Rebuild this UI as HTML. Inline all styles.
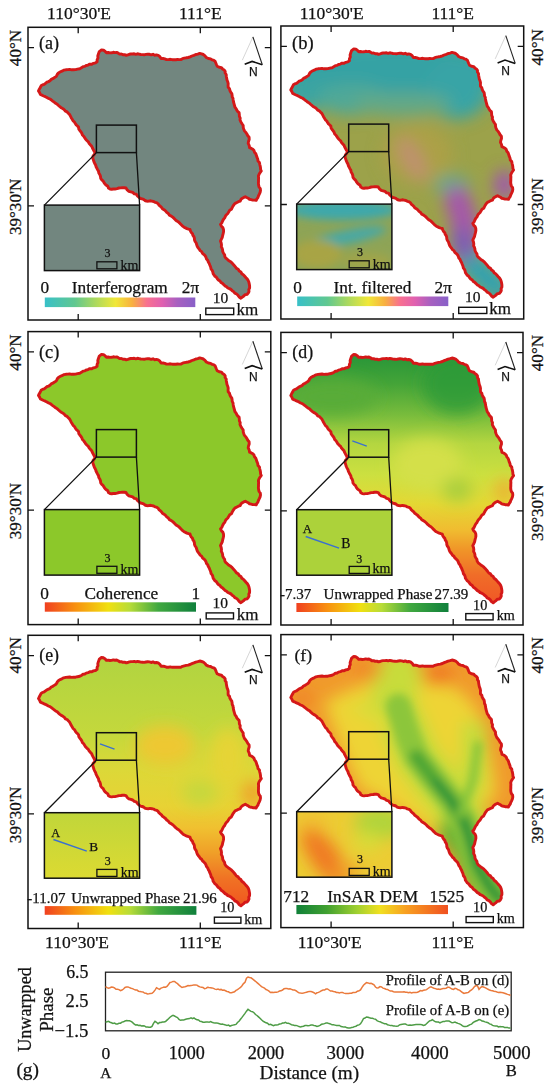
<!DOCTYPE html>
<html><head><meta charset="utf-8"><style>
html,body{margin:0;padding:0;background:#fff;}
svg{display:block;}
text{font-family:"Liberation Serif",serif;fill:#111;stroke:#111;stroke-width:0.25px;}
.s{font-family:"Liberation Sans",sans-serif;}
</style></head><body>
<svg width="550" height="1088" viewBox="0 0 550 1088">
<defs>
<path id="basin" d="M101.5,49.9 L103.6,50.2 L105.2,51.4 L106.5,52.8 L108.2,52.5 L109.9,52.9 L111.6,52.8 L113.3,52.3 L115.0,52.6 L116.7,52.4 L118.2,53.1 L119.6,54.1 L121.3,54.0 L122.9,54.7 L124.6,54.6 L126.2,55.3 L127.8,54.9 L129.3,54.3 L130.9,54.0 L132.6,54.0 L134.2,53.8 L135.8,54.3 L137.5,53.8 L139.1,54.1 L140.7,54.5 L142.5,54.6 L144.2,54.8 L146.0,54.4 L147.7,54.2 L149.5,54.3 L151.2,54.9 L153.0,54.3 L154.7,55.2 L156.5,54.9 L158.2,55.3 L159.9,56.7 L161.1,58.6 L163.0,58.5 L164.8,58.9 L166.5,59.6 L168.4,59.6 L170.3,59.3 L172.3,59.7 L174.2,59.6 L175.8,59.7 L177.5,59.5 L179.2,59.6 L180.8,59.6 L182.5,58.7 L184.3,58.2 L186.2,57.8 L188.1,57.5 L190.1,56.9 L191.9,56.0 L193.9,55.3 L195.8,54.5 L197.8,54.1 L199.7,53.4 L201.6,53.9 L203.4,54.5 L205.0,55.9 L206.3,57.5 L208.4,58.5 L210.6,58.9 L212.0,59.8 L213.6,60.2 L215.0,61.1 L215.7,62.8 L216.4,64.5 L217.2,66.2 L219.2,67.2 L221.5,67.6 L222.6,69.0 L224.1,69.9 L225.2,71.3 L225.1,73.0 L226.2,74.5 L226.3,76.2 L226.6,77.8 L227.0,80.0 L227.8,82.0 L228.2,83.7 L228.1,85.5 L228.2,87.3 L229.5,88.7 L229.9,90.5 L230.7,92.1 L231.8,93.6 L232.1,95.2 L232.2,96.9 L233.0,98.4 L233.2,100.0 L233.5,101.9 L234.0,103.7 L234.5,105.5 L235.0,107.3 L236.1,108.6 L236.8,110.2 L237.8,111.6 L239.1,112.7 L239.3,114.5 L239.4,116.4 L240.2,118.1 L240.0,120.0 L240.9,121.9 L242.0,123.7 L243.2,125.5 L243.2,127.4 L243.8,129.2 L244.5,130.9 L245.8,132.4 L246.9,134.0 L247.8,135.8 L249.1,137.3 L249.2,139.4 L248.5,141.4 L248.2,143.4 L249.2,145.5 L249.6,147.7 L251.3,148.4 L252.8,149.3 L254.0,150.6 L254.5,152.3 L255.8,153.8 L256.4,155.5 L256.9,157.2 L257.7,159.0 L258.0,161.0 L259.4,162.5 L259.8,164.5 L260.2,166.1 L260.5,167.8 L260.6,169.5 L261.3,171.0 L260.1,172.6 L259.1,174.2 L258.4,176.1 L258.6,177.9 L258.5,179.8 L258.5,181.6 L258.4,183.4 L258.6,185.2 L259.1,187.0 L260.3,188.6 L260.5,190.4 L260.1,192.4 L259.3,194.2 L258.4,196.0 L257.9,197.6 L256.9,198.9 L256.2,200.4 L254.5,200.1 L252.8,200.1 L251.1,199.6 L249.5,199.3 L248.2,198.2 L246.7,197.5 L245.3,196.7 L243.8,197.4 L242.4,198.2 L241.0,199.4 L240.2,201.1 L238.4,201.7 L236.8,202.6 L235.1,203.3 L234.0,204.7 L233.0,206.1 L232.2,207.6 L231.4,209.3 L229.7,210.3 L228.7,211.9 L227.8,213.5 L226.5,214.7 L225.4,216.2 L224.7,217.9 L223.5,219.3 L222.6,221.0 L221.8,222.9 L220.5,224.4 L221.4,226.2 L222.8,227.6 L223.5,229.5 L223.6,231.5 L223.2,233.4 L222.7,235.3 L222.3,237.3 L221.4,239.2 L220.5,241.1 L221.2,243.0 L221.5,244.9 L221.3,246.9 L222.1,248.3 L222.6,249.9 L222.7,251.5 L223.5,253.2 L224.6,254.8 L224.9,256.7 L225.9,258.2 L227.2,259.2 L228.5,260.4 L230.2,261.4 L231.6,262.6 L232.9,264.0 L234.2,265.4 L235.4,266.9 L236.5,268.4 L238.2,269.3 L239.2,271.0 L240.9,272.0 L241.8,273.7 L243.5,274.9 L244.7,276.3 L246.0,277.8 L247.3,279.1 L248.2,280.5 L248.9,282.2 L249.3,284.1 L249.6,286.0 L249.6,288.0 L248.8,289.6 L249.0,291.5 L248.2,293.1 L247.0,294.4 L245.0,294.7 L243.8,296.0 L242.3,297.1 L240.9,298.2 L239.2,297.0 L238.0,295.3 L236.6,294.0 L234.8,293.2 L233.6,291.6 L232.2,290.7 L230.9,289.4 L229.4,288.6 L227.8,288.0 L226.6,286.8 L225.1,286.0 L223.9,284.8 L222.7,283.6 L221.1,282.6 L220.0,281.0 L218.4,280.0 L217.3,278.7 L216.4,277.3 L215.0,276.3 L214.0,274.9 L213.1,273.6 L212.8,271.9 L212.2,270.4 L211.1,269.1 L210.7,267.2 L209.9,265.3 L209.2,263.5 L208.2,261.8 L207.7,260.3 L206.5,259.0 L206.0,257.4 L205.3,256.0 L204.0,254.6 L202.5,253.3 L201.6,251.6 L200.2,250.6 L199.3,249.2 L198.2,247.9 L197.3,246.5 L196.7,244.8 L196.2,243.0 L195.1,241.5 L194.5,240.0 L194.4,238.3 L193.9,236.7 L192.9,235.3 L192.5,233.7 L191.3,232.5 L190.5,231.1 L190.0,229.5 L188.5,229.1 L186.9,228.6 L185.5,227.9 L184.0,227.2 L182.7,226.2 L181.3,224.8 L180.0,223.4 L178.6,222.1 L176.9,221.1 L175.4,219.8 L174.1,218.4 L172.7,217.1 L171.1,216.0 L169.4,215.1 L168.3,213.5 L166.7,212.4 L165.5,210.9 L164.0,209.7 L162.4,208.7 L161.5,207.3 L160.2,206.2 L158.9,205.1 L158.0,203.6 L156.6,202.7 L155.0,202.3 L153.6,201.5 L151.8,201.1 L150.0,200.8 L148.2,201.2 L146.4,201.0 L144.9,200.5 L143.6,199.4 L142.1,198.9 L140.5,198.5 L138.9,197.3 L137.4,195.9 L136.2,194.2 L134.3,193.8 L132.7,192.4 L130.8,191.8 L128.9,191.3 L127.2,189.9 L126.0,188.0 L124.2,187.7 L122.5,187.6 L120.8,187.9 L119.0,188.0 L117.0,188.6 L115.0,189.0 L113.3,189.0 L111.7,189.3 L110.0,189.0 L108.5,188.1 L107.8,186.3 L106.4,185.3 L105.1,184.2 L104.0,182.7 L103.2,181.1 L101.8,179.9 L100.7,178.4 L100.5,176.5 L99.9,174.7 L98.8,173.0 L98.5,171.1 L97.6,169.7 L96.9,168.3 L96.1,166.8 L95.7,165.2 L94.9,163.8 L94.0,161.9 L93.4,160.0 L92.7,158.0 L93.1,155.9 L94.5,154.3 L94.9,152.2 L93.9,150.8 L93.1,149.3 L92.3,147.8 L91.7,146.2 L90.5,144.9 L89.2,143.5 L88.3,141.8 L86.8,140.5 L85.5,139.1 L84.6,137.6 L83.7,136.2 L82.4,135.0 L81.8,133.3 L80.9,131.9 L79.8,130.5 L78.8,129.1 L78.6,127.3 L77.5,126.0 L76.2,124.9 L75.3,123.5 L74.4,122.0 L73.1,120.9 L72.2,119.3 L71.2,117.7 L70.4,116.0 L69.5,114.4 L68.3,113.2 L67.1,111.9 L65.4,111.2 L64.4,109.8 L63.0,108.7 L61.3,107.8 L59.9,106.7 L58.5,105.5 L57.2,104.2 L55.6,103.3 L54.2,102.2 L52.7,101.1 L51.4,100.0 L50.0,99.0 L48.3,98.4 L46.9,97.5 L45.3,96.7 L43.7,96.0 L42.0,95.2 L40.4,94.5 L39.6,92.6 L38.5,90.9 L39.3,89.2 L40.3,87.5 L41.1,85.8 L42.5,84.9 L44.2,84.3 L45.5,83.3 L46.9,82.2 L48.5,81.6 L50.0,80.8 L51.2,79.4 L52.8,78.7 L54.2,77.8 L55.6,76.9 L56.7,75.7 L57.4,74.1 L58.6,72.9 L60.0,72.0 L61.9,71.2 L63.7,70.2 L65.8,69.8 L67.7,69.6 L69.7,69.4 L71.6,69.8 L73.6,69.7 L75.6,69.6 L77.5,69.1 L79.8,68.7 L81.8,67.6 L83.1,66.6 L84.8,66.4 L86.2,65.5 L88.1,65.1 L89.8,64.1 L91.8,64.2 L93.5,63.3 L95.5,62.9 L97.1,61.8 L97.1,59.8 L98.0,58.0 L97.8,56.0 L98.5,53.8 L99.3,51.6Z"/>
<clipPath id="clipB"><use href="#basin"/></clipPath>
<clipPath id="clipI"><rect x="44.4" y="205.1" width="95.2" height="65.5"/></clipPath>
<filter id="bl8" x="-50%" y="-50%" width="200%" height="200%"><feGaussianBlur stdDeviation="8"/></filter>
<filter id="bl4" x="-50%" y="-50%" width="200%" height="200%"><feGaussianBlur stdDeviation="4"/></filter>
<linearGradient id="cbA" x1="0" x2="1" y1="0" y2="0">
<stop offset="0" stop-color="#38c0c8"/><stop offset="0.2" stop-color="#60c890"/><stop offset="0.33" stop-color="#a8d860"/><stop offset="0.47" stop-color="#f0e838"/><stop offset="0.58" stop-color="#f8b040"/><stop offset="0.68" stop-color="#f87090"/><stop offset="0.78" stop-color="#e060b0"/><stop offset="0.88" stop-color="#a860c0"/><stop offset="1" stop-color="#8860c8"/>
</linearGradient>
<linearGradient id="cbC" x1="0" x2="1" y1="0" y2="0">
<stop offset="0" stop-color="#f04020"/><stop offset="0.2" stop-color="#f89010"/><stop offset="0.42" stop-color="#f0e010"/><stop offset="0.56" stop-color="#b8dc38"/><stop offset="0.75" stop-color="#40a840"/><stop offset="1" stop-color="#10803c"/>
</linearGradient>
<linearGradient id="cbF" x1="0" x2="1" y1="0" y2="0">
<stop offset="0" stop-color="#108038"/><stop offset="0.2" stop-color="#40a030"/><stop offset="0.4" stop-color="#a0d030"/><stop offset="0.55" stop-color="#f0e020"/><stop offset="0.72" stop-color="#f8a020"/><stop offset="1" stop-color="#f05020"/>
</linearGradient>
<linearGradient id="gd" gradientUnits="userSpaceOnUse" x1="0" y1="55" x2="0" y2="295">
<stop offset="0" stop-color="#2c9838"/><stop offset="0.1" stop-color="#44a438"/><stop offset="0.23" stop-color="#78bc3c"/><stop offset="0.35" stop-color="#b4d640"/><stop offset="0.48" stop-color="#cce040"/><stop offset="0.6" stop-color="#e4d834"/><stop offset="0.71" stop-color="#f0bc30"/><stop offset="0.79" stop-color="#f09628"/><stop offset="0.9" stop-color="#f06c28"/><stop offset="1" stop-color="#f05a26"/>
</linearGradient>
<linearGradient id="ge" gradientUnits="userSpaceOnUse" x1="0" y1="55" x2="0" y2="295">
<stop offset="0" stop-color="#b2d440"/><stop offset="0.3" stop-color="#c4d83c"/><stop offset="0.45" stop-color="#dcd838"/><stop offset="0.6" stop-color="#e8d234"/><stop offset="0.69" stop-color="#f0c030"/><stop offset="0.79" stop-color="#f0a028"/><stop offset="0.9" stop-color="#f07224"/><stop offset="1" stop-color="#f05a20"/>
</linearGradient>
<linearGradient id="ib" x1="0" x2="0" y1="0" y2="1">
<stop offset="0" stop-color="#40a8a0"/><stop offset="0.5" stop-color="#90a858"/><stop offset="1" stop-color="#b0a840"/>
</linearGradient>
<linearGradient id="ie" x1="0" x2="0" y1="0" y2="1">
<stop offset="0" stop-color="#c0d63a"/><stop offset="1" stop-color="#dcda32"/>
</linearGradient>
<linearGradient id="if" x1="1" x2="0" y1="0" y2="1">
<stop offset="0" stop-color="#a8d040"/><stop offset="0.4" stop-color="#e8d830"/><stop offset="0.7" stop-color="#f0a028"/><stop offset="1" stop-color="#f07828"/>
</linearGradient>
</defs>

<g id="panela">
<rect x="28" y="27.3" width="242.8" height="292.7" fill="none" stroke="#111" stroke-width="1.5"/>
<path d="M28,47.6 h6 M28,205.8 h6 M270.8,47.6 h-6 M270.8,205.8 h-6 M78.2,27.3 v6 M200.3,27.3 v6 M78.2,320.0 v-6 M200.3,320.0 v-6" stroke="#111" stroke-width="1.3"/>
<g transform="translate(0,0.0)">
<path d="M252.9,36.9 L242.3,60.2" stroke="#ccc" stroke-width="0.8" fill="none"/>
<path d="M252.9,36.9 L262.3,64.7" stroke="#222" stroke-width="1.1" fill="none"/>
<path d="M262.3,64.7 L252.1,61.4 L244.7,64.3" stroke="#111" stroke-width="1.6" fill="none"/>
</g>
<rect x="205.79999999999998" y="308.09999999999997" width="27.9" height="6.5" fill="#fff" stroke="#111" stroke-width="1.4"/>
<rect x="44.8" y="297.5" width="150.5" height="9.6" fill="url(#cbA)"/>
<g transform="translate(0,0)">
<g clip-path="url(#clipB)"><rect x="30" y="40" width="240" height="270" fill="#72867f"/></g>
<use href="#basin" fill="none" stroke="#d41818" stroke-width="2.9" stroke-linejoin="round"/>
<rect x="96.4" y="125.1" width="40" height="27.5" fill="none" stroke="#111" stroke-width="1.5"/>
<path d="M96.4,152.6 L44.4,205.1 M136.4,152.6 L139.6,205.1" stroke="#111" stroke-width="1.3" fill="none"/>
<rect x="44.4" y="205.1" width="95.2" height="65.5" fill="#72867f" stroke="#111" stroke-width="1.5"/>
<rect x="96.9" y="261.8" width="20" height="7" fill="none" stroke="#111" stroke-width="1.3"/>
</g></g>
<g id="panelb">
<rect x="280.9" y="26" width="242.8" height="293" fill="none" stroke="#111" stroke-width="1.5"/>
<path d="M280.9,46.3 h6 M280.9,204.5 h6 M523.7,46.3 h-6 M523.7,204.5 h-6 M331.09999999999997,26 v6 M453.2,26 v6 M331.09999999999997,319 v-6 M453.2,319 v-6" stroke="#111" stroke-width="1.3"/>
<g transform="translate(252.89999999999998,-1.3000000000000007)">
<path d="M252.9,36.9 L242.3,60.2" stroke="#ccc" stroke-width="0.8" fill="none"/>
<path d="M252.9,36.9 L262.3,64.7" stroke="#222" stroke-width="1.1" fill="none"/>
<path d="M262.3,64.7 L252.1,61.4 L244.7,64.3" stroke="#111" stroke-width="1.6" fill="none"/>
</g>
<rect x="458.7" y="307.3" width="28.1" height="6.2" fill="#fff" stroke="#111" stroke-width="1.4"/>
<rect x="297.2" y="296.5" width="151.1" height="9.6" fill="url(#cbA)"/>
<g transform="translate(252.3,-1.0)">
<g clip-path="url(#clipB)"><rect x="30" y="40" width="240" height="270" fill="#9ca24a"/>
<g filter="url(#bl8)">
<ellipse cx="140" cy="70" rx="110" ry="28" fill="#36a2a4"/>
<ellipse cx="205" cy="90" rx="32" ry="30" fill="#38a4a6"/>
<ellipse cx="60" cy="95" rx="35" ry="16" fill="#3aa4a2"/>
<ellipse cx="100" cy="100" rx="35" ry="16" fill="#50a898"/>
<ellipse cx="150" cy="105" rx="50" ry="12" fill="#62a888"/>
<ellipse cx="165" cy="155" rx="35" ry="30" fill="#aca046"/>
<ellipse cx="160" cy="160" rx="10" ry="25" fill="#c09070" transform="rotate(-30 160 160)"/>
<ellipse cx="200" cy="186" rx="18" ry="10" fill="#64a88e"/>
<ellipse cx="252" cy="186" rx="10" ry="15" fill="#a052b4"/>
<path d="M205,200 L212,222 L212,248" stroke="#a456ac" stroke-width="26" fill="none" stroke-linecap="round"/>
<path d="M210,240 L215,258" stroke="#7c5cb8" stroke-width="22" fill="none" stroke-linecap="round"/>
<path d="M222,268 L236,280 L246,290" stroke="#2ea2b6" stroke-width="24" fill="none" stroke-linecap="round"/>
</g></g>
<use href="#basin" fill="none" stroke="#d41818" stroke-width="2.9" stroke-linejoin="round"/>
<rect x="96.4" y="125.1" width="40" height="27.5" fill="none" stroke="#111" stroke-width="1.5"/>
<path d="M96.4,152.6 L44.4,205.1 M136.4,152.6 L139.6,205.1" stroke="#111" stroke-width="1.3" fill="none"/>
<g clip-path="url(#clipI)"><rect x="44" y="205" width="96" height="66" fill="#8ea456"/>
<g filter="url(#bl4)">
<ellipse cx="90" cy="211" rx="55" ry="10" fill="#3ea8ac"/>
<ellipse cx="95" cy="238" rx="40" ry="7" fill="#4aa8a4" transform="rotate(-12 95 238)"/>
<ellipse cx="65" cy="255" rx="25" ry="14" fill="#a8a444"/>
<ellipse cx="115" cy="262" rx="25" ry="8" fill="#a0a448"/>
</g></g>
<rect x="44.4" y="205.1" width="95.2" height="65.5" fill="none" stroke="#111" stroke-width="1.5"/>
<rect x="96.9" y="261.8" width="20" height="7" fill="none" stroke="#111" stroke-width="1.3"/>
</g></g>
<g id="panelc">
<rect x="28" y="331.6" width="242.8" height="293" fill="none" stroke="#111" stroke-width="1.5"/>
<path d="M28,351.90000000000003 h6 M28,510.1 h6 M270.8,351.90000000000003 h-6 M270.8,510.1 h-6 M78.2,331.6 v6 M200.3,331.6 v6 M78.2,624.6 v-6 M200.3,624.6 v-6" stroke="#111" stroke-width="1.3"/>
<g transform="translate(0,304.3)">
<path d="M252.9,36.9 L242.3,60.2" stroke="#ccc" stroke-width="0.8" fill="none"/>
<path d="M252.9,36.9 L262.3,64.7" stroke="#222" stroke-width="1.1" fill="none"/>
<path d="M262.3,64.7 L252.1,61.4 L244.7,64.3" stroke="#111" stroke-width="1.6" fill="none"/>
</g>
<rect x="206.2" y="612.9000000000001" width="27.3" height="6.0" fill="#fff" stroke="#111" stroke-width="1.4"/>
<rect x="44.8" y="602.3" width="151.2" height="9.4" fill="url(#cbC)"/>
<g transform="translate(0,304.5)">
<g clip-path="url(#clipB)"><rect x="30" y="40" width="240" height="270" fill="#8cc82a"/></g>
<use href="#basin" fill="none" stroke="#d41818" stroke-width="2.9" stroke-linejoin="round"/>
<rect x="96.4" y="125.1" width="40" height="27.5" fill="none" stroke="#111" stroke-width="1.5"/>
<path d="M96.4,152.6 L44.4,205.1 M136.4,152.6 L139.6,205.1" stroke="#111" stroke-width="1.3" fill="none"/>
<rect x="44.4" y="205.1" width="95.2" height="65.5" fill="#8cc82a" stroke="#111" stroke-width="1.5"/>
<rect x="96.9" y="261.8" width="20" height="7" fill="none" stroke="#111" stroke-width="1.3"/>
</g></g>
<g id="paneld">
<rect x="280.9" y="332.4" width="242.1" height="292.6" fill="none" stroke="#111" stroke-width="1.5"/>
<path d="M280.9,352.7 h6 M280.9,510.9 h6 M523.0,352.7 h-6 M523.0,510.9 h-6 M331.09999999999997,332.4 v6 M453.2,332.4 v6 M331.09999999999997,625.0 v-6 M453.2,625.0 v-6" stroke="#111" stroke-width="1.3"/>
<g transform="translate(252.89999999999998,305.09999999999997)">
<path d="M252.9,36.9 L242.3,60.2" stroke="#ccc" stroke-width="0.8" fill="none"/>
<path d="M252.9,36.9 L262.3,64.7" stroke="#222" stroke-width="1.1" fill="none"/>
<path d="M262.3,64.7 L252.1,61.4 L244.7,64.3" stroke="#111" stroke-width="1.6" fill="none"/>
</g>
<rect x="465.8" y="613.6" width="27.3" height="6.3" fill="#fff" stroke="#111" stroke-width="1.4"/>
<rect x="296.4" y="603" width="152.1" height="9.0" fill="url(#cbC)"/>
<g transform="translate(252.3,304.6)">
<g clip-path="url(#clipB)"><rect x="30" y="40" width="240" height="270" fill="url(#gd)"/>
<g filter="url(#bl8)">
<ellipse cx="205" cy="80" rx="35" ry="30" fill="#2c9a38" opacity="0.8"/>
<ellipse cx="80" cy="92" rx="45" ry="18" fill="#58ac38"/>
<ellipse cx="175" cy="160" rx="35" ry="25" fill="#d4e048"/>
<ellipse cx="252" cy="186" rx="8" ry="12" fill="#f0a830"/>
<ellipse cx="205" cy="185" rx="15" ry="12" fill="#a8ce3c"/>
</g></g>
<use href="#basin" fill="none" stroke="#d41818" stroke-width="2.9" stroke-linejoin="round"/>
<rect x="96.4" y="125.1" width="40" height="27.5" fill="none" stroke="#111" stroke-width="1.5"/>
<path d="M96.4,152.6 L44.4,205.1 M136.4,152.6 L139.6,205.1" stroke="#111" stroke-width="1.3" fill="none"/>
<rect x="44.4" y="205.1" width="95.2" height="65.5" fill="#acd23a" stroke="#111" stroke-width="1.5"/>
<path d="M100,136.3 L114.5,141.6" stroke="#3a70d0" stroke-width="1.3"/>
<path d="M53.4,231.9 L86.8,243.5" stroke="#3a70d0" stroke-width="1.5"/>
<rect x="96.9" y="261.8" width="20" height="7" fill="none" stroke="#111" stroke-width="1.3"/>
</g></g>
<g id="panele">
<rect x="28" y="635.3" width="242.8" height="293.2" fill="none" stroke="#111" stroke-width="1.5"/>
<path d="M28,655.5999999999999 h6 M28,813.8 h6 M270.8,655.5999999999999 h-6 M270.8,813.8 h-6 M78.2,635.3 v6 M200.3,635.3 v6 M78.2,928.5 v-6 M200.3,928.5 v-6" stroke="#111" stroke-width="1.3"/>
<g transform="translate(0,608.0)">
<path d="M252.9,36.9 L242.3,60.2" stroke="#ccc" stroke-width="0.8" fill="none"/>
<path d="M252.9,36.9 L262.3,64.7" stroke="#222" stroke-width="1.1" fill="none"/>
<path d="M262.3,64.7 L252.1,61.4 L244.7,64.3" stroke="#111" stroke-width="1.6" fill="none"/>
</g>
<rect x="214.39999999999998" y="917.2" width="26.5" height="6.0" fill="#fff" stroke="#111" stroke-width="1.4"/>
<rect x="44.7" y="906.1" width="151.7" height="8.7" fill="url(#cbC)"/>
<g transform="translate(0,607.6)">
<g clip-path="url(#clipB)"><rect x="30" y="40" width="240" height="270" fill="url(#ge)"/>
<g filter="url(#bl8)">
<ellipse cx="165" cy="138" rx="30" ry="20" fill="#eec830"/>
<ellipse cx="228" cy="150" rx="18" ry="30" fill="#e6d434"/>
<ellipse cx="200" cy="185" rx="18" ry="12" fill="#c4d83c"/>
<ellipse cx="252" cy="186" rx="9" ry="13" fill="#f09a2c"/>
</g></g>
<use href="#basin" fill="none" stroke="#d41818" stroke-width="2.9" stroke-linejoin="round"/>
<rect x="96.4" y="125.1" width="40" height="27.5" fill="none" stroke="#111" stroke-width="1.5"/>
<path d="M96.4,152.6 L44.4,205.1 M136.4,152.6 L139.6,205.1" stroke="#111" stroke-width="1.3" fill="none"/>
<rect x="44.4" y="205.1" width="95.2" height="65.5" fill="url(#ie)" stroke="#111" stroke-width="1.5"/>
<path d="M100,136.3 L114.5,141.6" stroke="#3a70d0" stroke-width="1.3"/>
<path d="M53.4,231.9 L86.8,243.5" stroke="#3a70d0" stroke-width="1.5"/>
<rect x="96.9" y="261.8" width="20" height="7" fill="none" stroke="#111" stroke-width="1.3"/>
</g></g>
<g id="panelf">
<rect x="280.9" y="634.6" width="242.5" height="293" fill="none" stroke="#111" stroke-width="1.5"/>
<path d="M280.9,654.9 h6 M280.9,813.1 h6 M523.4,654.9 h-6 M523.4,813.1 h-6 M331.09999999999997,634.6 v6 M453.2,634.6 v6 M331.09999999999997,927.6 v-6 M453.2,927.6 v-6" stroke="#111" stroke-width="1.3"/>
<g transform="translate(252.89999999999998,607.3000000000001)">
<path d="M252.9,36.9 L242.3,60.2" stroke="#ccc" stroke-width="0.8" fill="none"/>
<path d="M252.9,36.9 L262.3,64.7" stroke="#222" stroke-width="1.1" fill="none"/>
<path d="M262.3,64.7 L252.1,61.4 L244.7,64.3" stroke="#111" stroke-width="1.6" fill="none"/>
</g>
<rect x="466.09999999999997" y="916.6" width="27.2" height="6.0" fill="#fff" stroke="#111" stroke-width="1.4"/>
<rect x="296.4" y="905" width="151.6" height="9.1" fill="url(#cbF)"/>
<g transform="translate(252.3,606.6)">
<g clip-path="url(#clipB)"><rect x="30" y="40" width="240" height="270" fill="#f09a2c"/>
<g filter="url(#bl8)">
<path d="M72,96 Q110,74 150,70 Q200,68 224,102 Q242,150 244,188 L215,215 L225,265 L200,245 Q160,205 108,182 Q88,140 72,96Z" fill="#eed434"/>
<path d="M146,67 L140,97 L155,128 L164,150 L181,172 L199,194 L212,215 L218,233" stroke="#c8dc3a" stroke-width="46" fill="none" stroke-linecap="round"/>
<path d="M222,115 L221,172 L207,211" stroke="#c8dc3a" stroke-width="26" fill="none"/>
<path d="M200,225 L212,235 L225,260 L238,281 L246,292" stroke="#68b434" stroke-width="30" fill="none" stroke-linecap="round"/>
<path d="M100,100 L125,110 L150,125" stroke="#dcdc38" stroke-width="14" fill="none"/>
<ellipse cx="186" cy="70" rx="16" ry="9" fill="#f07024"/>
<ellipse cx="50" cy="92" rx="12" ry="6" fill="#f07a26"/>
<ellipse cx="115" cy="64" rx="16" ry="6" fill="#f08228"/>
</g>
<g filter="url(#bl4)">
<path d="M146,100 L155,128 L164,150 L181,172 L199,194 L212,215 L218,233 L225,259 L238,281 L247,292" stroke="#8cc63a" stroke-width="26" fill="none" stroke-linecap="round"/>
<path d="M164,150 L181,172 L199,194 L212,215 L218,233 L225,259 L238,281 L247,292" stroke="#4ea634" stroke-width="14" fill="none" stroke-linecap="round"/>
<path d="M183,175 L199,194 L212,215 L218,233 L225,259 L238,281 L247,292" stroke="#22903a" stroke-width="6" fill="none" stroke-linecap="round"/>
<path d="M226,135 L221,172 L207,211" stroke="#84c43a" stroke-width="8" fill="none"/>
</g></g>
<use href="#basin" fill="none" stroke="#d41818" stroke-width="2.9" stroke-linejoin="round"/>
<rect x="96.4" y="125.1" width="40" height="27.5" fill="none" stroke="#111" stroke-width="1.5"/>
<path d="M96.4,152.6 L44.4,205.1 M136.4,152.6 L139.6,205.1" stroke="#111" stroke-width="1.3" fill="none"/>
<g clip-path="url(#clipI)"><rect x="44" y="205" width="96" height="66" fill="#eccc34"/>
<g filter="url(#bl8)">
<ellipse cx="72" cy="250" rx="14" ry="36" fill="#f07a24" transform="rotate(-35 72 250)"/>
<ellipse cx="60" cy="215" rx="18" ry="8" fill="#f0c030"/>
<ellipse cx="128" cy="216" rx="26" ry="16" fill="#b0d43a"/>
<ellipse cx="115" cy="235" rx="14" ry="10" fill="#d8dc38"/>
<ellipse cx="95" cy="265" rx="14" ry="8" fill="#f0a02c"/>
</g></g>
<rect x="44.4" y="205.1" width="95.2" height="65.5" fill="none" stroke="#111" stroke-width="1.5"/>
<rect x="96.9" y="261.8" width="20" height="7" fill="none" stroke="#111" stroke-width="1.3"/>
</g></g>
<rect x="105.5" y="972.2" width="405.7" height="58.6" fill="none" stroke="#222" stroke-width="1.3"/>
<path d="M105.5,986.6 L107.0,987.7 L108.5,988.2 L110.0,987.7 L111.5,987.0 L113.0,987.2 L114.5,987.9 L116.0,989.3 L117.5,989.2 L119.0,989.6 L120.5,990.6 L122.0,990.0 L123.5,989.0 L125.0,987.5 L126.5,987.0 L128.0,986.9 L129.5,987.6 L131.0,988.3 L132.5,988.6 L134.0,989.4 L135.5,990.0 L137.0,990.1 L138.5,991.2 L140.0,991.6 L141.5,991.8 L143.0,991.9 L144.5,993.0 L146.0,993.2 L147.5,993.9 L149.0,993.8 L150.5,993.4 L152.0,993.3 L153.5,992.0 L155.0,990.1 L156.5,987.7 L158.0,988.7 L159.5,989.3 L161.0,988.1 L162.5,987.6 L164.0,987.1 L165.5,987.2 L167.0,986.3 L168.5,984.5 L170.0,982.5 L171.5,982.1 L173.0,981.4 L174.5,981.5 L176.0,982.7 L177.5,983.6 L179.0,985.1 L180.5,986.4 L182.0,987.5 L183.5,987.1 L185.0,986.8 L186.5,986.2 L188.0,985.5 L189.5,985.7 L191.0,985.5 L192.5,985.3 L194.0,984.9 L195.5,984.9 L197.0,985.1 L198.5,986.3 L200.0,986.9 L201.5,987.2 L203.0,987.5 L204.5,988.7 L206.0,988.4 L207.5,987.3 L209.0,987.6 L210.5,987.7 L212.0,987.9 L213.5,988.4 L215.0,989.1 L216.5,989.5 L218.0,989.0 L219.5,989.7 L221.0,989.4 L222.5,990.2 L224.0,990.1 L225.5,990.8 L227.0,991.5 L228.5,991.8 L230.0,992.8 L231.5,992.8 L233.0,992.3 L234.5,991.8 L236.0,990.4 L237.5,989.7 L239.0,988.5 L240.5,987.4 L242.0,985.7 L243.5,983.6 L245.0,982.2 L246.5,978.2 L248.0,977.0 L249.5,977.5 L251.0,977.8 L252.5,978.9 L254.0,980.1 L255.5,981.3 L257.0,982.6 L258.5,983.9 L260.0,985.2 L261.5,986.6 L263.0,987.3 L264.5,988.2 L266.0,989.5 L267.5,990.1 L269.0,991.1 L270.5,992.5 L272.0,992.3 L273.5,992.5 L275.0,992.2 L276.5,992.3 L278.0,991.9 L279.5,991.0 L281.0,990.8 L282.5,990.0 L284.0,988.8 L285.5,988.5 L287.0,988.5 L288.5,988.9 L290.0,988.8 L291.5,989.4 L293.0,990.0 L294.5,990.1 L296.0,990.7 L297.5,991.9 L299.0,992.9 L300.5,993.1 L302.0,993.2 L303.5,993.0 L305.0,992.6 L306.5,992.2 L308.0,991.8 L309.5,991.4 L311.0,991.5 L312.5,992.0 L314.0,992.7 L315.5,993.8 L317.0,992.8 L318.5,992.4 L320.0,991.6 L321.5,990.7 L323.0,990.1 L324.5,990.1 L326.0,989.1 L327.5,989.0 L329.0,990.0 L330.5,991.0 L332.0,991.0 L333.5,991.5 L335.0,991.8 L336.5,992.5 L338.0,992.5 L339.5,993.0 L341.0,992.4 L342.5,992.6 L344.0,993.1 L345.5,993.5 L347.0,993.4 L348.5,993.5 L350.0,993.3 L351.5,993.2 L353.0,992.5 L354.5,992.6 L356.0,992.2 L357.5,991.2 L359.0,990.7 L360.5,989.9 L362.0,987.3 L363.5,985.2 L365.0,983.8 L366.5,982.6 L368.0,982.9 L369.5,983.4 L371.0,983.2 L372.5,984.0 L374.0,984.9 L375.5,987.0 L377.0,988.0 L378.5,987.7 L380.0,986.6 L381.5,987.0 L383.0,988.1 L384.5,988.5 L386.0,989.2 L387.5,989.4 L389.0,990.4 L390.5,991.1 L392.0,991.0 L393.5,991.7 L395.0,992.0 L396.5,992.1 L398.0,992.1 L399.5,991.9 L401.0,992.0 L402.5,991.9 L404.0,991.8 L405.5,992.3 L407.0,992.2 L408.5,992.8 L410.0,992.3 L411.5,992.9 L413.0,992.6 L414.5,992.6 L416.0,992.5 L417.5,992.2 L419.0,991.5 L420.5,990.6 L422.0,991.0 L423.5,990.3 L425.0,990.1 L426.5,989.6 L428.0,988.5 L429.5,987.4 L431.0,986.9 L432.5,987.6 L434.0,988.3 L435.5,988.6 L437.0,989.3 L438.5,989.1 L440.0,989.5 L441.5,988.9 L443.0,988.6 L444.5,988.6 L446.0,988.4 L447.5,987.3 L449.0,987.2 L450.5,988.2 L452.0,989.1 L453.5,989.4 L455.0,988.3 L456.5,988.6 L458.0,989.8 L459.5,990.1 L461.0,991.4 L462.5,992.5 L464.0,993.4 L465.5,993.0 L467.0,992.7 L468.5,992.4 L470.0,990.9 L471.5,990.0 L473.0,988.4 L474.5,986.6 L476.0,985.6 L477.5,985.9 L479.0,989.4 L480.5,987.5 L482.0,986.6 L483.5,987.0 L485.0,987.6 L486.5,988.4 L488.0,989.3 L489.5,990.0 L491.0,990.4 L492.5,990.7 L494.0,991.3 L495.5,991.4 L497.0,992.0 L498.5,992.4 L500.0,992.3 L501.5,992.4 L503.0,992.7 L504.5,993.2 L506.0,993.8 L507.5,994.4 L509.0,994.7 L510.5,995.5" fill="none" stroke="#ea7a3c" stroke-width="1.5"/>
<path d="M105.5,1022.3 L107.0,1021.8 L108.5,1021.4 L110.0,1022.2 L111.5,1022.7 L113.0,1023.4 L114.5,1023.1 L116.0,1023.9 L117.5,1023.9 L119.0,1023.3 L120.5,1023.2 L122.0,1022.1 L123.5,1021.8 L125.0,1021.0 L126.5,1020.6 L128.0,1020.8 L129.5,1020.8 L131.0,1021.4 L132.5,1022.4 L134.0,1024.0 L135.5,1024.9 L137.0,1024.8 L138.5,1025.5 L140.0,1025.2 L141.5,1025.9 L143.0,1025.8 L144.5,1026.0 L146.0,1027.1 L147.5,1027.0 L149.0,1027.2 L150.5,1027.2 L152.0,1026.4 L153.5,1023.3 L155.0,1021.3 L156.5,1022.3 L158.0,1023.8 L159.5,1022.6 L161.0,1022.5 L162.5,1022.0 L164.0,1021.9 L165.5,1021.6 L167.0,1020.1 L168.5,1018.7 L170.0,1017.2 L171.5,1016.1 L173.0,1015.4 L174.5,1016.0 L176.0,1016.8 L177.5,1017.6 L179.0,1019.4 L180.5,1020.3 L182.0,1020.0 L183.5,1020.1 L185.0,1019.5 L186.5,1019.0 L188.0,1018.8 L189.5,1018.6 L191.0,1017.9 L192.5,1018.7 L194.0,1017.9 L195.5,1019.0 L197.0,1019.8 L198.5,1019.9 L200.0,1021.3 L201.5,1021.5 L203.0,1022.2 L204.5,1022.2 L206.0,1022.0 L207.5,1021.9 L209.0,1022.3 L210.5,1021.5 L212.0,1022.2 L213.5,1022.7 L215.0,1023.0 L216.5,1022.9 L218.0,1023.3 L219.5,1023.7 L221.0,1024.2 L222.5,1024.0 L224.0,1024.6 L225.5,1024.9 L227.0,1025.4 L228.5,1025.1 L230.0,1026.2 L231.5,1025.5 L233.0,1025.1 L234.5,1024.7 L236.0,1024.4 L237.5,1022.5 L239.0,1021.3 L240.5,1019.3 L242.0,1017.4 L243.5,1015.4 L245.0,1013.4 L246.5,1011.2 L248.0,1009.3 L249.5,1010.4 L251.0,1011.4 L252.5,1011.7 L254.0,1012.7 L255.5,1014.5 L257.0,1015.5 L258.5,1016.9 L260.0,1018.3 L261.5,1019.8 L263.0,1021.2 L264.5,1022.0 L266.0,1022.8 L267.5,1023.2 L269.0,1024.7 L270.5,1024.3 L272.0,1025.0 L273.5,1025.6 L275.0,1025.1 L276.5,1025.1 L278.0,1024.8 L279.5,1024.1 L281.0,1023.9 L282.5,1023.0 L284.0,1022.9 L285.5,1022.3 L287.0,1023.3 L288.5,1023.3 L290.0,1023.9 L291.5,1024.7 L293.0,1025.0 L294.5,1025.4 L296.0,1025.4 L297.5,1025.9 L299.0,1026.6 L300.5,1026.9 L302.0,1026.5 L303.5,1026.2 L305.0,1025.5 L306.5,1025.4 L308.0,1025.7 L309.5,1025.4 L311.0,1025.0 L312.5,1025.1 L314.0,1025.5 L315.5,1025.7 L317.0,1026.4 L318.5,1026.1 L320.0,1025.4 L321.5,1024.3 L323.0,1024.1 L324.5,1023.6 L326.0,1023.1 L327.5,1023.0 L329.0,1023.6 L330.5,1023.9 L332.0,1024.8 L333.5,1024.7 L335.0,1025.1 L336.5,1025.5 L338.0,1025.6 L339.5,1025.5 L341.0,1026.5 L342.5,1026.7 L344.0,1027.1 L345.5,1027.0 L347.0,1027.8 L348.5,1027.9 L350.0,1028.1 L351.5,1027.5 L353.0,1027.2 L354.5,1026.6 L356.0,1026.2 L357.5,1025.2 L359.0,1024.9 L360.5,1023.8 L362.0,1021.3 L363.5,1018.6 L365.0,1018.0 L366.5,1017.0 L368.0,1017.2 L369.5,1017.8 L371.0,1018.2 L372.5,1018.3 L374.0,1018.9 L375.5,1019.3 L377.0,1020.6 L378.5,1021.4 L380.0,1021.7 L381.5,1022.5 L383.0,1023.1 L384.5,1023.7 L386.0,1023.7 L387.5,1024.7 L389.0,1025.1 L390.5,1025.6 L392.0,1025.6 L393.5,1025.9 L395.0,1026.1 L396.5,1026.2 L398.0,1026.0 L399.5,1024.9 L401.0,1024.5 L402.5,1024.2 L404.0,1024.1 L405.5,1024.1 L407.0,1024.9 L408.5,1025.2 L410.0,1025.1 L411.5,1025.3 L413.0,1025.0 L414.5,1024.7 L416.0,1024.6 L417.5,1024.6 L419.0,1024.5 L420.5,1024.6 L422.0,1024.7 L423.5,1025.4 L425.0,1025.0 L426.5,1023.7 L428.0,1022.3 L429.5,1020.9 L431.0,1020.5 L432.5,1019.7 L434.0,1021.0 L435.5,1021.8 L437.0,1022.1 L438.5,1022.0 L440.0,1022.8 L441.5,1022.1 L443.0,1021.5 L444.5,1021.6 L446.0,1020.9 L447.5,1020.9 L449.0,1021.0 L450.5,1021.9 L452.0,1022.8 L453.5,1022.5 L455.0,1022.0 L456.5,1022.8 L458.0,1023.4 L459.5,1023.9 L461.0,1024.7 L462.5,1025.9 L464.0,1026.5 L465.5,1026.5 L467.0,1026.2 L468.5,1025.5 L470.0,1024.6 L471.5,1024.2 L473.0,1022.7 L474.5,1021.7 L476.0,1021.0 L477.5,1020.5 L479.0,1019.6 L480.5,1020.0 L482.0,1021.0 L483.5,1021.3 L485.0,1021.9 L486.5,1022.2 L488.0,1022.7 L489.5,1023.9 L491.0,1024.2 L492.5,1025.4 L494.0,1025.8 L495.5,1025.9 L497.0,1026.0 L498.5,1026.9 L500.0,1026.6 L501.5,1026.7 L503.0,1026.7 L504.5,1027.5 L506.0,1027.4 L507.5,1027.6 L509.0,1028.1 L510.5,1028.1" fill="none" stroke="#4e9c46" stroke-width="1.5"/>
<text x="47.11" y="19.38" font-size="17.50">110°30'E</text>
<text x="178.99" y="19.38" font-size="17.50">111°E</text>
<text x="299.71" y="19.38" font-size="17.50">110°30'E</text>
<text x="431.39" y="19.38" font-size="17.50">111°E</text>
<text x="45.11" y="947.77" font-size="17.50">110°30'E</text>
<text x="178.99" y="947.77" font-size="17.50">111°E</text>
<text x="297.71" y="947.77" font-size="17.50">110°30'E</text>
<text x="431.39" y="947.77" font-size="17.50">111°E</text>
<text transform="translate(20.88,66.13) rotate(-90)" font-size="17.10">40°N</text>
<text transform="translate(20.88,235.08) rotate(-90)" font-size="17.10">39°30'N</text>
<text transform="translate(20.88,370.63) rotate(-90)" font-size="17.10">40°N</text>
<text transform="translate(20.88,539.23) rotate(-90)" font-size="17.10">39°30'N</text>
<text transform="translate(20.88,673.43) rotate(-90)" font-size="17.10">40°N</text>
<text transform="translate(20.88,843.13) rotate(-90)" font-size="17.10">39°30'N</text>
<text transform="translate(542.67,65.43) rotate(-90)" font-size="17.10">40°N</text>
<text transform="translate(542.67,234.58) rotate(-90)" font-size="17.10">39°30'N</text>
<text transform="translate(543.07,371.18) rotate(-90)" font-size="17.10">40°N</text>
<text transform="translate(543.07,540.88) rotate(-90)" font-size="17.10">39°30'N</text>
<text transform="translate(542.98,673.43) rotate(-90)" font-size="17.10">40°N</text>
<text transform="translate(542.98,843.68) rotate(-90)" font-size="17.10">39°30'N</text>
<text x="39.06" y="49.04" font-size="18.10">(a)</text>
<text x="291.98" y="48.69" font-size="18.50">(b)</text>
<text x="38.90" y="358.06" font-size="18.37">(c)</text>
<text x="292.33" y="357.97" font-size="17.81">(d)</text>
<text x="39.21" y="660.83" font-size="17.82">(e)</text>
<text x="294.45" y="660.86" font-size="17.60">(f)</text>
<text x="40.42" y="293.17" font-size="17.30">0</text>
<text x="71.83" y="293.38" font-size="17.30">Interferogram</text>
<text x="181.80" y="293.38" font-size="17.30">2π</text>
<text x="293.18" y="292.77" font-size="17.30">0</text>
<text x="333.61" y="292.77" font-size="17.30">Int. filtered</text>
<text x="434.50" y="292.77" font-size="17.30">2π</text>
<text x="40.17" y="598.77" font-size="17.30">0</text>
<text x="84.38" y="598.77" font-size="17.30">Coherence</text>
<text x="191.61" y="598.77" font-size="17.30">1</text>
<text x="280.02" y="599.07" font-size="15.00">-7.37</text>
<text x="323.59" y="599.07" font-size="15.00">Unwrapped Phase</text>
<text x="434.44" y="599.07" font-size="15.00">27.39</text>
<text x="27.27" y="902.77" font-size="15.00">-11.07</text>
<text x="71.19" y="902.77" font-size="15.00">Unwrapped Phase</text>
<text x="183.01" y="902.77" font-size="15.00">21.96</text>
<text x="283.29" y="901.98" font-size="17.30">712</text>
<text x="327.29" y="901.98" font-size="17.30">InSAR DEM</text>
<text x="429.56" y="901.98" font-size="17.30">1525</text>
<text x="212.80" y="303.07" font-size="15.50">10</text>
<text x="236.53" y="314.77" font-size="17.00">km</text>
<text x="465.05" y="302.38" font-size="15.50">10</text>
<text x="489.23" y="313.77" font-size="17.00">km</text>
<text x="212.60" y="608.27" font-size="15.50">10</text>
<text x="236.73" y="619.77" font-size="17.00">km</text>
<text x="473.08" y="609.88" font-size="14.20">10</text>
<text x="496.78" y="620.48" font-size="14.20">km</text>
<text x="220.23" y="912.38" font-size="14.20">10</text>
<text x="244.28" y="923.88" font-size="14.20">km</text>
<text x="473.08" y="911.57" font-size="14.20">10</text>
<text x="496.78" y="923.07" font-size="14.20">km</text>
<text x="104.62" y="257.27" font-size="12.00">3</text>
<text x="120.45" y="269.97" font-size="14.00">km</text>
<text x="356.92" y="256.27" font-size="12.00">3</text>
<text x="372.75" y="268.97" font-size="14.00">km</text>
<text x="104.62" y="561.77" font-size="12.00">3</text>
<text x="120.45" y="574.48" font-size="14.00">km</text>
<text x="356.92" y="863.48" font-size="12.00">3</text>
<text x="372.75" y="876.18" font-size="14.00">km</text>
<text x="356.37" y="562.67" font-size="12.00">3</text>
<text x="372.56" y="573.38" font-size="14.00">km</text>
<text x="302.71" y="533.27" font-size="12.94">A</text>
<text x="341.18" y="548.48" font-size="13.75">B</text>
<text x="104.77" y="865.48" font-size="12.00">3</text>
<text x="120.66" y="877.17" font-size="14.00">km</text>
<text x="51.37" y="837.17" font-size="12.21">A</text>
<text x="89.26" y="851.27" font-size="13.21">B</text>
<text class="s" x="248.98" y="76.48" font-size="12.00">N</text>
<text class="s" x="501.28" y="75.48" font-size="12.00">N</text>
<text class="s" x="248.98" y="380.97" font-size="12.00">N</text>
<text class="s" x="501.28" y="381.07" font-size="12.00">N</text>
<text class="s" x="248.98" y="684.08" font-size="12.00">N</text>
<text class="s" x="501.28" y="682.68" font-size="12.00">N</text>
<text x="66.14" y="977.77" font-size="17.86">6.5</text>
<text x="65.42" y="1007.27" font-size="18.45">2.5</text>
<text x="54.41" y="1037.28" font-size="18.78">−1.5</text>
<text transform="translate(31.38,1051.81) rotate(-90)" font-size="18.14">Unwarpped</text>
<text transform="translate(52.98,1031.82) rotate(-90)" font-size="19.03">Phase</text>
<text x="101.52" y="1059.18" font-size="17.52">0</text>
<text x="168.71" y="1059.18" font-size="18.13">1000</text>
<text x="247.63" y="1059.18" font-size="18.33">2000</text>
<text x="326.60" y="1059.18" font-size="18.85">3000</text>
<text x="410.97" y="1059.18" font-size="18.92">4000</text>
<text x="493.02" y="1059.18" font-size="18.79">5000</text>
<text x="100.24" y="1078.28" font-size="15.33">A</text>
<text x="505.78" y="1075.78" font-size="16.67">B</text>
<text x="259.57" y="1079.15" font-size="19.18">Distance (m)</text>
<text x="16.40" y="1075.65" font-size="19.40">(g)</text>
<text x="385.71" y="984.71" font-size="14.73">Profile of A-B on (d)</text>
<text x="385.71" y="1015.23" font-size="14.83">Profile of A-B on (e)</text>
</svg></body></html>
